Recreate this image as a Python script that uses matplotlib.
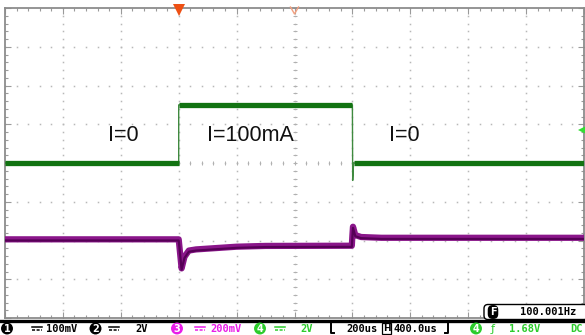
import matplotlib
matplotlib.use("Agg")
import matplotlib.pyplot as plt
from matplotlib.patches import FancyBboxPatch
import numpy as np

# ---- scope settings ----
t_div = 200.0          # us / div
t_center = 400.0       # H position, us
ch3_scale = 200.0      # mV / div
ch3_pos = -1.97        # div
ch4_scale = 2.0        # V / div
ch4_pos = 0.0          # div
trig_level = 1.68      # V

# ---- channel 4 (green), volts vs time in us ----
t4 = [-600, 0, 0, 600, 601, 604, 1400]
v4 = [0.0, 0.0, 3.0, 3.0, -0.9, 0.0, 0.0]

# ---- channel 3 (purple), mV vs time in us ----
t3 = [-600, 0, 4, 10, 20, 35, 60, 120, 200, 300, 598, 600, 602, 610, 630, 700, 1400]
v3 = [0, 0, -60, -150, -90, -58, -52, -46, -38, -34, -33, 20, 65, 22, 12, 8, 8]

# ---- annotations ----
labels = ["I=0", "I=100mA", "I=0"]
label_t = [-193, 248, 779]
label_div = 0.72

W, H = 585, 335
fig = plt.figure(figsize=(W / 100, H / 100), dpi=100)

# overlay in pixel coordinates for the status bar / markers
ov = fig.add_axes([0, 0, 1, 1])
ov.set_xlim(0, W)
ov.set_ylim(H, 0)
ov.axis("off")

top, bot, left, right = 8, 318, 5, 584
ax = fig.add_axes([left / W, (H - bot) / H, (right - left) / W, (bot - top) / H])
ax.set_xlim(t_center - 5 * t_div, t_center + 5 * t_div)
ax.set_ylim(-4, 4)
ax.patch.set_alpha(0)

# grid: dotted graticule
gcol = "#b8b8b8"
ydots = np.arange(-4, 4.001, 0.2)
xdots = np.arange(t_center - 5 * t_div, t_center + 5 * t_div + 1, t_div / 5)
for k in range(1, 10):
    xk = t_center - 5 * t_div + k * t_div
    ax.plot(np.full_like(ydots, xk), ydots, ls="none", marker="s", ms=1.1,
            mew=0, color=gcol, zorder=1)
for k in range(-3, 4):
    ax.plot(xdots, np.full_like(xdots, k), ls="none", marker="s", ms=1.1,
            mew=0, color=gcol, zorder=1)
# centre line tick marks
ax.plot(xdots, np.zeros_like(xdots), ls="none", marker="|", ms=3,
        mew=0.7, color="#b0b0b0", zorder=1)
ax.plot(np.full_like(ydots, t_center), ydots, ls="none", marker="_", ms=3,
        mew=0.7, color="#b0b0b0", zorder=1)

for s in ax.spines.values():
    s.set_color("#8c8c8c")
    s.set_linewidth(1.3)
ax.set_xticks(np.arange(t_center - 5 * t_div, t_center + 5 * t_div + 1, t_div))
ax.set_xticks(xdots, minor=True)
ax.set_yticks(np.arange(-4, 5, 1))
ax.set_yticks(ydots, minor=True)
ax.tick_params(which="both", direction="in", top=True, right=True,
               labelbottom=False, labelleft=False, color="#9a9a9a", width=0.8)
ax.tick_params(which="major", length=4)
ax.tick_params(which="minor", length=2.5)

# channel 4 trace
y4 = np.array(v4) / ch4_scale + ch4_pos
ax.plot(t4, y4, color="#3f8a3f", lw=1.0, zorder=3)
for i in range(len(t4) - 1):
    if v4[i] == v4[i + 1]:
        ax.plot(t4[i:i + 2], y4[i:i + 2], color="#127312", lw=3.8,
                solid_capstyle="butt", zorder=4)

# channel 3 trace
y3 = np.array(v3) / ch3_scale + ch3_pos
ax.plot(t3, y3, color="#8a168a", lw=4.5, zorder=3)
ax.plot(t3, np.array(y3) - 0.03, color="#560056", lw=1.6, zorder=4)

for txt_, tt in zip(labels, label_t):
    ax.text(tt, label_div, txt_, ha="center", va="center", fontsize=15.5,
            family="Liberation Sans", color="#111111", zorder=5)

# markers: trigger position, centre, trigger level
def t2px(t):
    return left + (t - (t_center - 5 * t_div)) / (10 * t_div) * (right - left)

def div2py(d):
    return (top + bot) / 2 - d * (bot - top) / 8

ov.plot(t2px(0), top + 2, marker="v", ms=8, color="#ee5014", mew=0, zorder=6)
xc = t2px(t_center)
ov.plot([xc - 4, xc, xc + 4], [top - 1, top + 6, top - 1], color="#f2a080",
        lw=1.0, zorder=6)
ov.plot(right - 1, div2py(trig_level / ch4_scale + ch4_pos), marker="<", ms=7,
        color="#33dd33", mew=0, zorder=6)

ax.set_zorder(2)
ov.set_zorder(3)

# ---- status bar ----
ov.plot([0, W], [320.5, 320.5], color="black", lw=2.4, zorder=5)
ov.add_patch(FancyBboxPatch((484, 304.5), 104, 15, boxstyle="round,pad=0,rounding_size=4",
                            fc="white", ec="black", lw=1.0, zorder=6))
ov.text(493, 312, "F", color="white", fontsize=7, fontweight="bold",
        ha="center", va="center", family="DejaVu Sans", zorder=7,
        bbox=dict(boxstyle="round,pad=0.2,rounding_size=0.5", fc="black", ec="none"))
ov.text(548, 312, "100.001Hz", fontsize=7.5, fontweight="bold", ha="center",
        va="center", family="DejaVu Sans Mono", zorder=7)

black, mag, grn = "#000000", "#e81ce8", "#2ccc2c"
ym = 328.5

def circ(x, n, c):
    ov.text(x, ym, n, color="white", fontsize=7, fontweight="bold", ha="center",
            va="center", family="DejaVu Sans", zorder=7,
            bbox=dict(boxstyle="circle,pad=0.1", fc=c, ec="none"))

def dc(x, c):
    ov.plot([x, x + 10], [ym - 1.5, ym - 1.5], color=c, lw=1.1, zorder=7)
    ov.plot([x, x + 10], [ym + 1.2, ym + 1.2], color=c, lw=1.1, ls=(0, (2, 1)), zorder=7)

def txt(x, s, c, ha="left"):
    ov.text(x, ym, s, color=c, fontsize=7.5, fontweight="bold", ha=ha,
            va="center", family="DejaVu Sans Mono", zorder=7)

circ(7, "1", black); dc(32, black); txt(46, "100mV", black)
circ(95.5, "2", black); dc(109, black); txt(148, "2V", black, ha="right")
circ(177, "3", mag); dc(195, mag); txt(210, "200mV", mag)
circ(260, "4", grn); dc(275, grn); txt(313, "2V", grn, ha="right")

# horizontal settings bracket
for xb, sgn in ((331, 1), (448, -1)):
    ov.plot([xb + 3 * sgn, xb, xb, xb + 3 * sgn], [321, 321, 333, 333],
            color=black, lw=1.4, zorder=7)
txt(346, "200us", black)
ov.text(386.5, ym, "H", color=black, fontsize=6.5, fontweight="bold", ha="center",
        va="center", family="DejaVu Sans", zorder=7,
        bbox=dict(boxstyle="square,pad=0.1", fc="white", ec="black", lw=0.9))
txt(393, "400.0us", black)

circ(476, "4", grn)
ov.text(493, ym, "ƒ", color=grn, fontsize=8, ha="center", va="center",
        family="DejaVu Sans", zorder=7)
txt(509, "1.68V", grn)
txt(583, "DC", grn, ha="right")

fig.savefig("out.png", dpi=100)
